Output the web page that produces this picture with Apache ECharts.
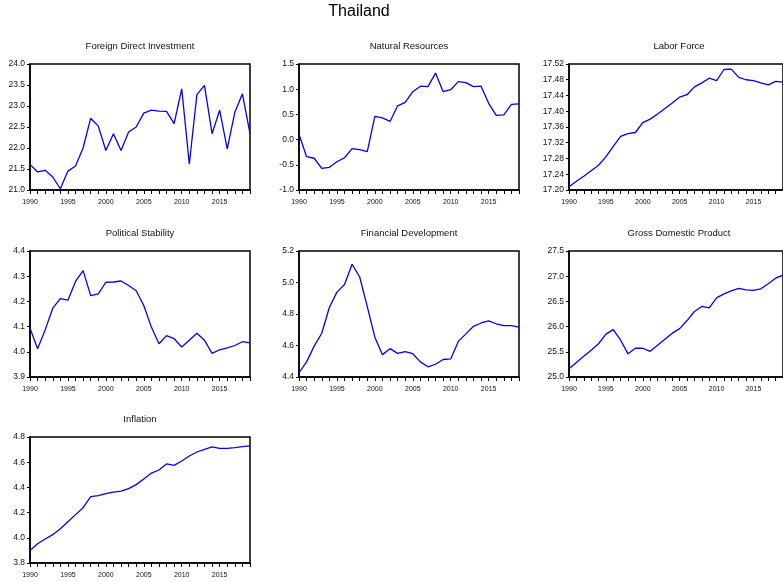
<!DOCTYPE html>
<html><head><meta charset="utf-8">
<script src="https://cdn.jsdelivr.net/npm/echarts@6/dist/echarts.min.js"></script>
<style>html,body{margin:0;padding:0;background:#fff}#c{width:783px;height:582px}</style>
</head><body><div id="c"></div>
<script>
const years = [];
for (let y = 1990; y <= 2019; y++) years.push(String(y));

const fdi = [21.61,21.43,21.47,21.31,21.03,21.45,21.57,22.00,22.71,22.52,21.94,22.34,21.94,22.38,22.50,22.83,22.90,22.88,22.87,22.58,23.41,21.62,23.27,23.49,22.34,22.90,21.98,22.85,23.29,22.34];
const natRes = [0.105,-0.34,-0.37,-0.57,-0.55,-0.44,-0.36,-0.18,-0.20,-0.24,0.46,0.43,0.36,0.67,0.74,0.95,1.06,1.05,1.32,0.95,0.99,1.15,1.13,1.05,1.06,0.72,0.48,0.49,0.70,0.71];
const labor = [17.208,17.222,17.235,17.249,17.263,17.284,17.311,17.336,17.343,17.346,17.371,17.380,17.393,17.407,17.421,17.436,17.442,17.462,17.472,17.484,17.478,17.506,17.507,17.486,17.480,17.478,17.472,17.467,17.476,17.474];
const polStab = [4.094,4.012,4.087,4.173,4.211,4.205,4.279,4.322,4.223,4.230,4.276,4.277,4.281,4.263,4.242,4.184,4.098,4.032,4.064,4.052,4.019,4.046,4.074,4.046,3.994,4.008,4.016,4.025,4.040,4.035];
const finDev = [4.427,4.496,4.596,4.678,4.841,4.939,4.987,5.116,5.035,4.847,4.653,4.542,4.580,4.550,4.561,4.548,4.496,4.465,4.481,4.511,4.515,4.626,4.674,4.722,4.743,4.757,4.738,4.726,4.726,4.717];
const gdp = [25.165,25.29,25.41,25.53,25.66,25.85,25.94,25.73,25.46,25.57,25.57,25.51,25.63,25.75,25.87,25.96,26.12,26.30,26.40,26.37,26.57,26.65,26.71,26.76,26.73,26.72,26.75,26.85,26.96,27.02];
const inflation = [3.90,3.953,3.99,4.025,4.072,4.128,4.184,4.239,4.326,4.334,4.35,4.363,4.371,4.39,4.422,4.467,4.514,4.538,4.586,4.575,4.61,4.649,4.681,4.702,4.721,4.71,4.71,4.715,4.723,4.729];

const panelTitles = ["Foreign Direct Investment","Natural Resources","Labor Force","Political Stability","Financial Development","Gross Domestic Product","Inflation"];
const panelData = [fdi, natRes, labor, polStab, finDev, gdp, inflation];
const yMin = [21.0, -1.0, 17.20, 3.9, 4.4, 25.0, 3.8];
const yMax = [24.0, 1.5, 17.52, 4.4, 5.2, 27.5, 4.8];
const yStep = [0.5, 0.5, 0.04, 0.1, 0.2, 0.5, 0.2];
const yDec = [1, 1, 2, 1, 1, 1, 1];

const colLeft = [30, 299, 569];
const rowTop = [64, 251, 437];
const plotW = 220, plotH = 126;

const font = "Liberation Sans, Arial, sans-serif";
const grids = [], xAxes = [], yAxes = [], series = [];
const titles = [{text: "Thailand", left: 359, top: 4, textAlign: "center", padding: 0,
  textStyle: {fontFamily: font, fontSize: 16, fontWeight: "normal", color: "#000"}}];

panelData.forEach((d, i) => {
  const r = Math.floor(i / 3), c = i % 3;
  const left = colLeft[c], top = rowTop[r];
  grids.push({left: left, top: top, width: plotW, height: plotH, show: true,
    borderColor: "#000", borderWidth: 1.5, backgroundColor: "transparent", containLabel: false});
  titles.push({text: panelTitles[i], left: left + plotW / 2, top: top - 23, textAlign: "center", padding: 0,
    textStyle: {fontFamily: font, fontSize: 9.5, fontWeight: "normal", color: "#111"}});
  xAxes.push({type: "category", gridIndex: i, data: years, boundaryGap: false,
    axisLine: {onZero: false, lineStyle: {color: "#000", width: 1.5}},
    axisTick: {interval: 0, length: 4, lineStyle: {color: "#000"}},
    axisLabel: {interval: 4, margin: 9, fontSize: 7, fontFamily: font, color: "#111"},
    splitLine: {show: false}});
  yAxes.push({type: "value", gridIndex: i, min: yMin[i], max: yMax[i], interval: yStep[i],
    axisLine: {show: true, onZero: false, lineStyle: {color: "#000", width: 1.5}},
    axisTick: {show: true, length: 3, lineStyle: {color: "#000"}},
    axisLabel: {margin: 5, fontSize: 8.5, fontFamily: font, color: "#111",
      formatter: v => Number(v).toFixed(yDec[i])},
    splitLine: {show: false}});
  series.push({type: "line", xAxisIndex: i, yAxisIndex: i, data: d, symbol: "none",
    lineStyle: {color: "#0000ff", width: 1.3}, animation: false});
});

const chart = echarts.init(document.getElementById("c"), null, {renderer: "canvas"});
chart.setOption({backgroundColor: "#fff", animation: false, title: titles,
  grid: grids, xAxis: xAxes, yAxis: yAxes, series: series});
</script></body></html>
